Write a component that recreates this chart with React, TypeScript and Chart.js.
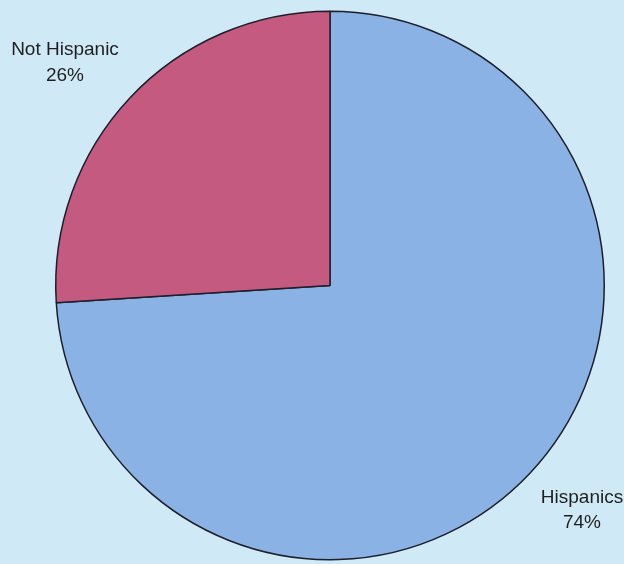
import React, { useEffect, useRef } from "react";
import { Chart, registerables } from "chart.js";

Chart.register(...registerables);

const categories = ["Hispanics", "Not Hispanic"];
const values = [74, 26];
const valueLabels = ["74%", "26%"];
const sliceColors = ["#8ab2e4", "#c45a80"];

const labelPlugin = {
  id: "outerLabels",
  afterDraw(chart: any) {
    const ctx = chart.ctx;
    ctx.save();
    ctx.font = "19px 'Liberation Sans', Arial, sans-serif";
    ctx.fillStyle = "#1f1f1f";
    ctx.textAlign = "center";
    ctx.textBaseline = "alphabetic";
    ctx.fillText(categories[0], 582, 503);
    ctx.fillText(valueLabels[0], 582, 528);
    ctx.fillText(categories[1], 65, 55);
    ctx.fillText(valueLabels[1], 65, 81);
    ctx.restore();
  },
};

const bgPlugin = {
  id: "bg",
  beforeDraw(chart: any) {
    const ctx = chart.ctx;
    ctx.save();
    ctx.fillStyle = "#d0e9f6";
    ctx.fillRect(0, 0, chart.width, chart.height);
    ctx.restore();
  },
};

export default function App() {
  const ref = useRef<HTMLCanvasElement>(null);
  useEffect(() => {
    document.body.style.margin = "0";
    const chart = new Chart(ref.current!, {
      type: "pie",
      data: {
        labels: categories,
        datasets: [
          {
            data: values,
            backgroundColor: sliceColors,
            borderColor: "#1e1e2a",
            borderWidth: 1.5,
          },
        ],
      },
      options: {
        responsive: false,
        animation: false,
        layout: { padding: { top: 8, bottom: 1, left: 55, right: 19 } },
        plugins: {
          legend: { display: false },
          tooltip: { enabled: false },
        },
      },
      plugins: [bgPlugin, labelPlugin],
    });
    return () => chart.destroy();
  }, []);
  return (
    <div style={{ width: 624, height: 564 }}>
      <canvas ref={ref} width={624} height={564} style={{ display: "block" }} />
    </div>
  );
}
